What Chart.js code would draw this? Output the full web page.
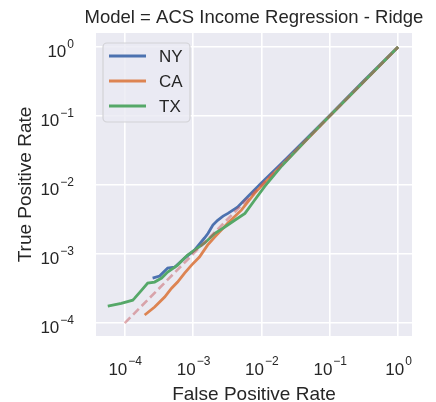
<!DOCTYPE html>
<html>
<head>
<meta charset="utf-8">
<script src="https://cdn.jsdelivr.net/npm/chart.js@4.4.1/dist/chart.umd.min.js"></script>
<style>
html, body { margin: 0; padding: 0; background: #fff; }
#wrap { width: 436px; height: 402px; }
</style>
</head>
<body>
<div id="wrap"><canvas id="roc"></canvas></div>
<script>
// tick positions and labels (base 10, exponent) for both axes
const tickValues = [1e-4, 1e-3, 1e-2, 1e-1, 1];
const tickExps = ['−4', '−3', '−2', '−1', '0'];

// NY
const nyFpr = [2.56e-4, 3.24e-4, 4.25e-4, 5.37e-4, 7.52e-4, 1.05e-3, 1.47e-3, 1.66e-3, 1.95e-3, 2.29e-3, 2.75e-3, 3.24e-3, 4.47e-3, 6.31e-3, 1.0e-2, 2.0e-2, 5.0e-2, 0.1, 0.316, 1];
const nyTpr = [4.49e-4, 4.80e-4, 6.27e-4, 6.46e-4, 8.75e-4, 1.14e-3, 1.71e-3, 2.0e-3, 2.63e-3, 3.09e-3, 3.55e-3, 3.89e-3, 4.79e-3, 6.76e-3, 1.07e-2, 2.09e-2, 5.13e-2, 0.102, 0.324, 1];

// CA
const caFpr = [1.96e-4, 2.74e-4, 3.84e-4, 4.85e-4, 5.94e-4, 7.52e-4, 9.51e-4, 1.24e-3, 1.63e-3, 2.09e-3, 3.24e-3, 5.13e-3, 7.94e-3, 1.26e-2, 3.16e-2, 0.1, 0.316, 1];
const caTpr = [1.31e-4, 1.71e-4, 2.38e-4, 3.21e-4, 3.93e-4, 5.31e-4, 6.93e-4, 9.06e-4, 1.35e-3, 1.78e-3, 2.82e-3, 4.37e-3, 7.59e-3, 1.23e-2, 3.09e-2, 0.1, 0.316, 1];

// TX
const txFpr = [5.65e-5, 8.9e-5, 1.31e-4, 1.40e-4, 1.77e-4, 2.17e-4, 2.74e-4, 3.47e-4, 4.25e-4, 5.94e-4, 8.32e-4, 1.16e-3, 1.48e-3, 2.09e-3, 2.88e-3, 4.07e-3, 5.75e-3, 7.94e-3, 1.12e-2, 2.0e-2, 5.0e-2, 0.1, 0.316, 1];
const txTpr = [1.76e-4, 1.93e-4, 2.15e-4, 2.30e-4, 3.01e-4, 3.80e-4, 3.93e-4, 4.49e-4, 5.48e-4, 6.93e-4, 9.68e-4, 1.22e-3, 1.45e-3, 2.0e-3, 2.45e-3, 3.09e-3, 3.89e-3, 6.03e-3, 9.55e-3, 1.91e-2, 5.0e-2, 0.1, 0.316, 1];

// chance diagonal
const diagFpr = [1e-4, 1];
const diagTpr = [1e-4, 1];

const TITLE = 'Model = ACS Income Regression - Ridge';
const TXT = '#262626';
const FONT = "'Liberation Sans', Arial, sans-serif";

function pts(xs, ys) {
  return xs.map((x, i) => ({x: x, y: ys[i]}));
}

const plotBg = {
  id: 'plotBg',
  beforeDraw(chart) {
    const a = chart.chartArea, ctx = chart.ctx;
    ctx.save();
    ctx.fillStyle = '#eaeaf2';
    ctx.fillRect(a.left, a.top, a.right - a.left, a.bottom - a.top);
    ctx.restore();
  }
};

// title, 10^n tick labels and axis titles, matplotlib style
const axisText = {
  id: 'axisText',
  afterDraw(chart) {
    const ctx = chart.ctx, a = chart.chartArea;
    const xs = chart.scales.x, ys = chart.scales.y;
    const mid = (a.left + a.right) / 2;
    ctx.save();
    ctx.fillStyle = TXT;
    ctx.textBaseline = 'alphabetic';
    ctx.textAlign = 'center';
    ctx.font = '18.5px ' + FONT;
    ctx.fillText(TITLE, mid, 23);
    ctx.textAlign = 'left';
    tickValues.forEach((v, i) => {
      ctx.font = '17px ' + FONT;
      const wb = ctx.measureText('10').width;
      ctx.font = '12px ' + FONT;
      const we = ctx.measureText(tickExps[i]).width;
      // x axis: centered under grid line
      const px = xs.getPixelForValue(v);
      const x0 = px - (wb + we) / 2;
      ctx.font = '17px ' + FONT;
      ctx.fillText('10', x0, a.bottom + 39);
      ctx.font = '12px ' + FONT;
      ctx.fillText(tickExps[i], x0 + wb + 1, a.bottom + 29);
      // y axis: right aligned
      const py = ys.getPixelForValue(v);
      const xr = a.left - 22;
      ctx.font = '17px ' + FONT;
      ctx.fillText('10', xr - we - wb - 1, py + 10);
      ctx.font = '12px ' + FONT;
      ctx.fillText(tickExps[i], xr - we, py + 1);
    });
    ctx.font = '19px ' + FONT;
    ctx.textAlign = 'center';
    ctx.fillText('False Positive Rate', mid, a.bottom + 64);
    ctx.translate(31, (a.top + a.bottom) / 2);
    ctx.rotate(-Math.PI / 2);
    ctx.fillText('True Positive Rate', 0, 0);
    ctx.restore();
  }
};

// legend drawn inside the plot, upper left
const innerLegend = {
  id: 'innerLegend',
  afterDraw(chart) {
    const ctx = chart.ctx, a = chart.chartArea;
    const items = chart.data.datasets.filter(d => d.label);
    const bx = a.left + 7, by = a.top + 10, bw = 87, rowH = 25;
    const bh = items.length * rowH + 4;
    ctx.save();
    ctx.beginPath();
    ctx.roundRect(bx, by, bw, bh, 4);
    ctx.fillStyle = 'rgba(234,234,242,0.8)';
    ctx.fill();
    ctx.strokeStyle = '#d2d2d6';
    ctx.lineWidth = 1.2;
    ctx.stroke();
    ctx.font = '17px ' + FONT;
    ctx.textBaseline = 'middle';
    items.forEach((d, i) => {
      const yy = by + 13 + i * rowH;
      ctx.beginPath();
      ctx.moveTo(bx + 6, yy);
      ctx.lineTo(bx + 43, yy);
      ctx.strokeStyle = d.borderColor;
      ctx.lineWidth = 3;
      ctx.stroke();
      ctx.fillStyle = TXT;
      ctx.fillText(d.label, bx + 56, yy + 1);
    });
    ctx.restore();
  }
};

function axis(min, max) {
  return {
    type: 'logarithmic',
    min: min,
    max: max,
    afterBuildTicks: s => { s.ticks = tickValues.map(v => ({value: v})); },
    ticks: {display: false, autoSkip: false},
    grid: {color: '#ffffff', lineWidth: 1.6, drawTicks: false},
    border: {display: false}
  };
}

const xAxis = axis(3.8e-5, 1.6);
xAxis.afterFit = s => { s.height = 66; };
const yAxis = axis(6.5e-5, 1.6);
yAxis.afterFit = s => { s.width = 96; };

// lower order is drawn on top: diagonal over TX over CA over NY
new Chart(document.getElementById('roc'), {
  type: 'line',
  data: {
    datasets: [
      {label: 'NY', data: pts(nyFpr, nyTpr), borderColor: '#4c72b0', borderWidth: 2.8, order: 4},
      {label: 'CA', data: pts(caFpr, caTpr), borderColor: '#dd8452', borderWidth: 2.8, order: 3},
      {label: 'TX', data: pts(txFpr, txTpr), borderColor: '#55a868', borderWidth: 2.8, order: 2},
      {data: pts(diagFpr, diagTpr), borderColor: 'rgba(196,78,82,0.45)', borderWidth: 2.6, borderDash: [8, 4], order: 1}
    ]
  },
  options: {
    responsive: true,
    maintainAspectRatio: false,
    animation: false,
    elements: {point: {radius: 0, hoverRadius: 0}, line: {tension: 0, fill: false}},
    layout: {padding: {top: 33, right: 24, bottom: 0, left: 0}},
    plugins: {
      legend: {display: false},
      tooltip: {enabled: false}
    },
    scales: {x: xAxis, y: yAxis}
  },
  plugins: [plotBg, axisText, innerLegend]
});
</script>
</body>
</html>
